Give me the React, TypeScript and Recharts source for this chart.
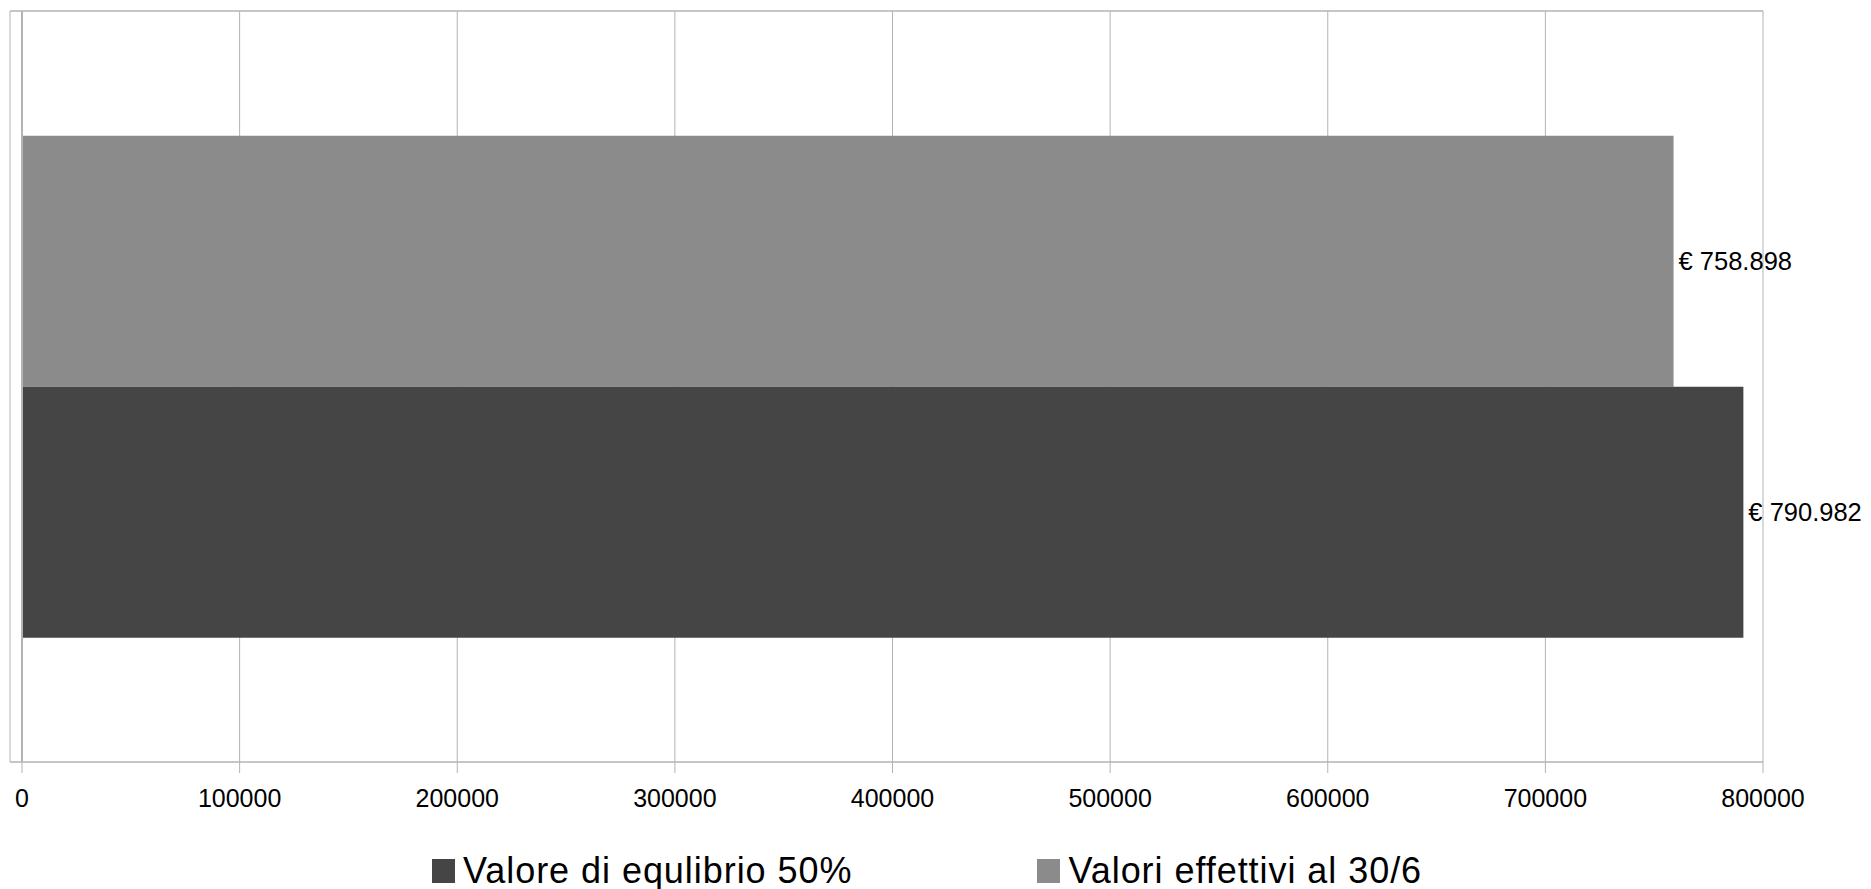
import React from 'react';
import { BarChart, Bar, XAxis, YAxis, CartesianGrid, ReferenceLine, LabelList, Legend } from 'recharts';

const categories = ['Totale'];
const valoreEquilibrio = [790982];
const valoriEffettivi = [758898];
const seriesNames = ['Valore di equlibrio 50%', 'Valori effettivi al 30/6'];
const seriesColors = ['#454545', '#8b8b8b'];
const xTicks = [0, 100000, 200000, 300000, 400000, 500000, 600000, 700000, 800000];

const data = categories.map((c, i) => ({
  name: c,
  equilibrio: valoreEquilibrio[i],
  effettivi: valoriEffettivi[i],
}));

const FONT = '"Liberation Sans", Arial, sans-serif';
const GRID = '#b3b3b3';

const fmt = (v: any) => '€ ' + String(Math.round(Number(v))).replace(/\B(?=(\d{3})+(?!\d))/g, '.');

const LegendContent = () => (
  <div
    style={{
      height: 60,
      boxSizing: 'border-box',
      paddingTop: 24,
      paddingLeft: 432,
      display: 'flex',
      alignItems: 'center',
      fontFamily: FONT,
      fontSize: 36,
      letterSpacing: 0.95,
      color: '#000',
    }}
  >
    {seriesNames.map((n, i) => (
      <div key={n} style={{ display: 'flex', alignItems: 'center', marginRight: i === 0 ? 185 : 0 }}>
        <span style={{ display: 'inline-block', width: 23, height: 24, background: seriesColors[i], marginRight: 8 }} />
        <span style={{ whiteSpace: 'nowrap', lineHeight: '36px' }}>{n}</span>
      </div>
    ))}
  </div>
);

export default function App() {
  return (
    <div style={{ position: 'absolute', left: 0, top: 0, width: 1871, height: 889, background: '#fff' }}>
      <BarChart
        width={1871}
        height={889}
        data={data}
        layout="vertical"
        margin={{ top: 11, right: 108, bottom: 0, left: 10 }}
        barCategoryGap="16.6%"
        barGap={0}
        style={{ fontFamily: FONT }}
      >
        <CartesianGrid horizontal={false} stroke={GRID} strokeWidth={1} />
        <XAxis
          type="number"
          domain={[0, 800000]}
          ticks={xTicks}
          interval={0}
          padding={{ left: 12, right: 0 }}
          tickSize={11}
          tickMargin={16}
          tickLine={{ stroke: GRID, strokeWidth: 1 }}
          axisLine={{ stroke: GRID, strokeWidth: 1.5 }}
          height={67}
          tick={{ fontSize: 25, fill: '#000', fontFamily: FONT }}
        />
        <YAxis type="category" dataKey="name" hide />
        <Bar dataKey="effettivi" name={seriesNames[1]} fill={seriesColors[1]} isAnimationActive={false}>
          <LabelList dataKey="effettivi" position="right" offset={5} formatter={fmt} fontSize={25.5} fill="#000" fontFamily={FONT} />
        </Bar>
        <Bar dataKey="equilibrio" name={seriesNames[0]} fill={seriesColors[0]} isAnimationActive={false}>
          <LabelList dataKey="equilibrio" position="right" offset={5} formatter={fmt} fontSize={25.5} fill="#000" fontFamily={FONT} />
        </Bar>
        <ReferenceLine x={0} stroke={GRID} strokeWidth={2} />
        <ReferenceLine y={categories[0]} position="start" stroke={GRID} strokeWidth={1.5} />
        <Legend verticalAlign="bottom" content={<LegendContent />} wrapperStyle={{ left: 0, width: 1871 }} />
      </BarChart>
    </div>
  );
}
